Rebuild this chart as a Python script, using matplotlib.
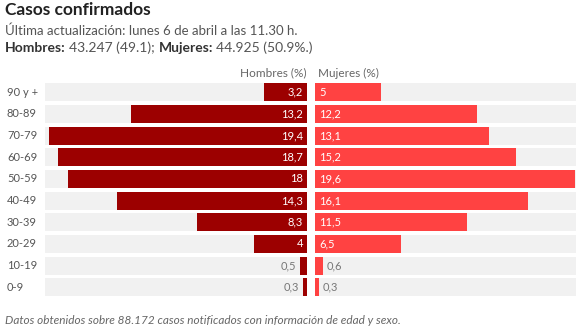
import matplotlib
matplotlib.use("Agg")
import matplotlib.pyplot as plt

categories = ["90 y +", "80-89", "70-79", "60-69", "50-59", "40-49", "30-39", "20-29", "10-19", "0-9"]
hombres = [3.2, 13.2, 19.4, 18.7, 18.0, 14.3, 8.3, 4.0, 0.5, 0.3]
mujeres = [5.0, 12.2, 13.1, 15.2, 19.6, 16.1, 11.5, 6.5, 0.6, 0.3]

plt.rcParams['font.family'] = ['Lato', 'DejaVu Sans']

W, H = 579, 332
fig = plt.figure(figsize=(W/100, H/100), dpi=100)

male_c = "#9c0000"
fem_c = "#ff4242"
bg_c = "#f1f1f1"
txt_c = "#555555"

xmax = 19.7
top_px, bot_px = 81.5, 298
axL = fig.add_axes([45/W, 1-bot_px/H, 262/W, (bot_px-top_px)/H])
axR = fig.add_axes([315/W, 1-bot_px/H, 261/W, (bot_px-top_px)/H])

ys = list(range(len(categories)))
bh = 0.83
for ax in (axL, axR):
    ax.barh(ys, [xmax]*len(ys), height=bh, color=bg_c, zorder=0)
    ax.set_xlim(0, xmax)
    ax.set_ylim(len(ys)-0.5, -0.5)
    ax.axis("off")
axL.invert_xaxis()

axL.barh(ys, hombres, height=bh, color=male_c, zorder=1)
axR.barh(ys, mujeres, height=bh, color=fem_c, zorder=1)

def fmt(v):
    return ("%g" % v).replace(".", ",")

# left axis is inverted: x grows to the left, so ha="right" ends the text near the bar's inner edge
for y, v in zip(ys, hombres):
    if v >= 2:
        axL.text(0.3, y, fmt(v), ha="right", va="center", color="white", fontsize=8, zorder=3)
    else:
        axL.text(v + 0.3, y, fmt(v), ha="right", va="center", color="#777777", fontsize=8, zorder=3)

for y, v in zip(ys, mujeres):
    if v >= 2:
        axR.text(0.3, y, fmt(v), ha="left", va="center", color="white", fontsize=8, zorder=3)
    else:
        axR.text(v + 0.3, y, fmt(v), ha="left", va="center", color="#777777", fontsize=8, zorder=3)

for y, c in zip(ys, categories):
    axL.annotate(c, xy=(0, y), xycoords=("figure fraction", "data"), xytext=(5, 0),
                 textcoords="offset points", ha="left", va="center", fontsize=8, color=txt_c)

fig.text(306/W, 1-73/H, "Hombres (%)", ha="right", va="center", fontsize=8.5, color="#666666")
fig.text(318/W, 1-73/H, "Mujeres (%)", ha="left", va="center", fontsize=8.5, color="#666666")

fig.text(5/W, 1-10/H, "Casos confirmados", ha="left", va="center", fontsize=12.5, fontweight="bold", color="#222222")
fig.text(5/W, 1-31/H, "Última actualización: lunes 6 de abril a las 11.30 h.", ha="left", va="center",
         fontsize=9.5, color="#555555")

fs3 = 10
y3 = 1-48/H
fig.canvas.draw()
r = fig.canvas.get_renderer()
parts = [("Hombres:", "bold", "#333333", 3), ("43.247 (49.1);", "normal", "#555555", 4),
         ("Mujeres:", "bold", "#333333", 3), ("44.925 (50.9%.)", "normal", "#555555", 0)]
xpix = 5
for s, w, col, gap in parts:
    t = fig.text(xpix/W, y3, s, ha="left", va="center", fontsize=fs3, fontweight=w, color=col)
    bb = t.get_window_extent(r)
    xpix = bb.x1 + gap

fig.text(5/W, 1-320/H, "Datos obtenidos sobre 88.172 casos notificados con información de edad y sexo.",
         ha="left", va="center", fontsize=8.5, style="italic", color="#666666")

fig.savefig("out.png", dpi=100, facecolor="white")
